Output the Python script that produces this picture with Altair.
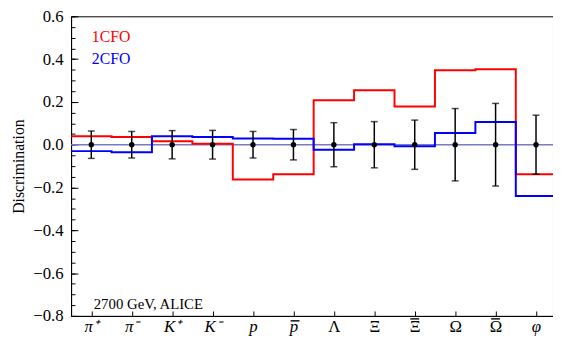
import json
import altair as alt
import pandas as pd

# ---- data ----
categories = ["π⁺", "π⁻", "K⁺", "K⁻", "p", "p", "Λ", "Ξ", "Ξ", "Ω", "Ω", "φ"]
italic_idx = [0, 1, 2, 3, 4, 5, 11]
bar_idx_low = [5]          # p-bar: overline just above the x-height
bar_idx_high = [8, 10]     # Xi-bar, Omega-bar: overline above the capitals
cfo1 = [0.040, 0.036, 0.016, 0.004, -0.163, -0.138, 0.208, 0.254, 0.179, 0.348, 0.353, -0.138]
cfo2 = [-0.030, -0.035, 0.040, 0.036, 0.029, 0.028, -0.024, 0.002, -0.007, 0.055, 0.106, -0.240]
data_center = [0.0] * 12
data_err = [0.064, 0.062, 0.066, 0.067, 0.062, 0.071, 0.103, 0.108, 0.115, 0.169, 0.193, 0.138]
series_names = ["1CFO", "2CFO"]
series_colors = ["#ff0000", "#0000ff"]

FONT = "Liberation Serif"

# step table (bin edges at category index +- 0.5)
rows = []
for name, vals in zip(series_names, [cfo1, cfo2]):
    for i, v in enumerate(vals):
        rows.append({"series": name, "x": i - 0.5, "y": v})
    rows.append({"series": name, "x": len(vals) - 0.5, "y": vals[-1]})
steps = pd.DataFrame(rows)

pts = pd.DataFrame({
    "idx": list(range(len(categories))),
    "c": data_center,
    "lo": [c - e for c, e in zip(data_center, data_err)],
    "hi": [c + e for c, e in zip(data_center, data_err)],
})

xscale = alt.Scale(domain=[-0.5, 11.42], nice=False, zero=False)
yscale = alt.Scale(domain=[-0.8, 0.6], nice=False, zero=False)

label_expr = json.dumps(categories, ensure_ascii=False) + "[datum.value]"
idx_vals = list(range(len(categories)))

main_x_axis = alt.Axis(
    values=idx_vals, labelExpr=label_expr, ticks=False,
    domain=True, domainColor="black", grid=False, title=None,
    labelFont=FONT, labelFontSize=17, labelColor="black", labelPadding=3,
    labelFontStyle={"condition": {"test": "indexof(" + json.dumps(italic_idx) + ", datum.value) >= 0",
                                  "value": "italic"}, "value": "normal"},
)
main_y_axis = alt.Axis(
    orient="left", values=[-0.8, -0.6, -0.4, -0.2, 0.0, 0.2, 0.4, 0.6], format=".1f",
    ticks=False, domain=True, domainColor="black", grid=False,
    title="Discrimination", titleFont=FONT, titleFontSize=16, titleFontWeight="normal",
    titleColor="black", titlePadding=6,
    labelFont=FONT, labelFontSize=17, labelColor="black", labelPadding=8,
)

lines = alt.Chart(steps).mark_line(interpolate="step-after", strokeWidth=2, clip=True).encode(
    x=alt.X("x:Q", scale=xscale, axis=main_x_axis),
    y=alt.Y("y:Q", scale=yscale, axis=main_y_axis),
    color=alt.Color("series:N", scale=alt.Scale(domain=series_names, range=series_colors), legend=None),
    detail="series:N",
)

zero = alt.Chart(pd.DataFrame({"z": [0.0]})).mark_rule(color="#7b7bc4", strokeWidth=1.5).encode(
    y=alt.Y("z:Q", scale=yscale, axis=None)
)

err = alt.Chart(pts).mark_rule(color="black", strokeWidth=1.5).encode(
    x=alt.X("idx:Q", scale=xscale, axis=None),
    y=alt.Y("lo:Q", scale=yscale, axis=None),
    y2="hi:Q",
)
cap_lo = alt.Chart(pts).mark_tick(color="black", orient="horizontal", size=7, thickness=1.5).encode(
    x=alt.X("idx:Q", scale=xscale, axis=None),
    y=alt.Y("lo:Q", scale=yscale, axis=None),
)
cap_hi = alt.Chart(pts).mark_tick(color="black", orient="horizontal", size=7, thickness=1.5).encode(
    x=alt.X("idx:Q", scale=xscale, axis=None),
    y=alt.Y("hi:Q", scale=yscale, axis=None),
)
dots = alt.Chart(pts).mark_point(filled=True, color="black", size=30, opacity=1).encode(
    x=alt.X("idx:Q", scale=xscale, axis=None),
    y=alt.Y("c:Q", scale=yscale, axis=None),
)

# inward ticks
minor_vals = [round(-0.8 + 0.05 * k, 2) for k in range(29)]
ytick_minor = alt.Chart(pts).mark_point(opacity=0).encode(
    x=alt.X("idx:Q", scale=xscale, axis=None),
    y=alt.Y("c:Q", scale=yscale, axis=alt.Axis(
        orient="left", values=minor_vals, labels=False, domain=False, grid=False,
        ticks=True, tickSize=4, tickColor="black", offset=-4, title=None)),
)
ytick_major = alt.Chart(pts).mark_point(opacity=0).encode(
    x=alt.X("idx:Q", scale=xscale, axis=None),
    y=alt.Y("c:Q", scale=yscale, axis=alt.Axis(
        orient="left", values=[-0.8, -0.6, -0.4, -0.2, 0.0, 0.2, 0.4, 0.6], labels=False,
        domain=False, grid=False, ticks=True, tickSize=7, tickColor="black", offset=-7, title=None)),
)
xtick = alt.Chart(pts).mark_point(opacity=0).encode(
    x=alt.X("idx:Q", scale=xscale, axis=alt.Axis(
        orient="bottom", values=idx_vals, labels=False, domain=False,
        grid=False, ticks=True, tickSize=5, tickColor="black", offset=-5, title=None)),
    y=alt.Y("c:Q", scale=yscale, axis=None),
)

# overlines of the anti-particle labels
def overline_layer(idxs, shift, ypix):
    df = pd.DataFrame({"a": [i + shift - 0.11 for i in idxs], "b": [i + shift + 0.11 for i in idxs]})
    return alt.Chart(df).mark_rule(color="black", strokeWidth=1.4, clip=False).encode(
        x=alt.X("a:Q", scale=xscale, axis=None), x2="b:Q", y=alt.value(ypix))

bar_low = overline_layer(bar_idx_low, 0.04, 309)
bar_high = overline_layer(bar_idx_high, 0.0, 307)

# annotations
txt1 = alt.Chart(pd.DataFrame({"t": ["1CFO"]})).mark_text(
    font=FONT, fontSize=16, color="#ff0000", align="left", baseline="middle").encode(
    text="t:N", x=alt.value(21), y=alt.value(21))
txt2 = alt.Chart(pd.DataFrame({"t": ["2CFO"]})).mark_text(
    font=FONT, fontSize=16, color="#0000ff", align="left", baseline="middle").encode(
    text="t:N", x=alt.value(21), y=alt.value(43))
txt3 = alt.Chart(pd.DataFrame({"t": ["2700 GeV, ALICE"]})).mark_text(
    font=FONT, fontSize=15, color="black", align="left", baseline="alphabetic").encode(
    text="t:N", x=alt.value(23), y=alt.value(297))

chart = alt.layer(
    zero, lines, err, cap_lo, cap_hi, dots, ytick_minor, ytick_major, xtick,
    bar_low, bar_high, txt1, txt2, txt3
).resolve_axis(x="independent", y="independent").properties(
    width=489, height=304,
    autosize=alt.AutoSizeParams(type="none"),
    padding={"left": 64, "top": 6, "right": 0, "bottom": 22},
).configure(background="white", font=FONT).configure_axis(
    labelFont=FONT, titleFont=FONT
).configure_view(stroke="black", strokeWidth=1)

chart.save("out.html", embed_options={"renderer": "svg", "actions": False})
